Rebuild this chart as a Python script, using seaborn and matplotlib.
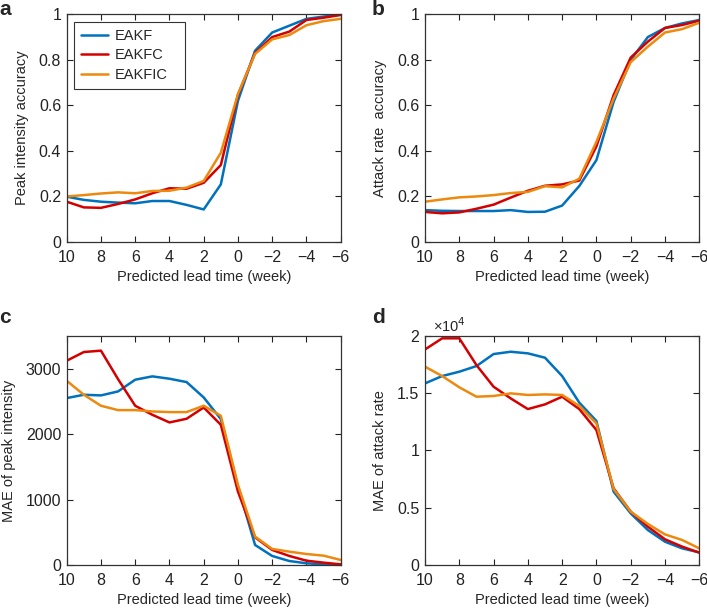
import numpy as np
import pandas as pd
import matplotlib
matplotlib.use("Agg")
import matplotlib.pyplot as plt
import seaborn as sns

lead = [10, 9, 8, 7, 6, 5, 4, 3, 2, 1, 0, -1, -2, -3, -4, -5, -6]
methods = ["EAKF", "EAKFC", "EAKFIC"]

# Panel a: peak intensity accuracy
a_eakf = [0.199, 0.185, 0.177, 0.173, 0.170, 0.180, 0.180, 0.163, 0.143, 0.253, 0.62, 0.84, 0.92, 0.95, 0.98, 0.99, 1.0]
a_eakfc = [0.177, 0.152, 0.150, 0.167, 0.187, 0.214, 0.236, 0.234, 0.260, 0.338, 0.646, 0.83, 0.90, 0.924, 0.975, 0.985, 0.997]
a_eakfic = [0.200, 0.206, 0.213, 0.218, 0.214, 0.224, 0.225, 0.239, 0.268, 0.392, 0.65, 0.826, 0.89, 0.909, 0.952, 0.97, 0.98]

# Panel b: attack rate accuracy
b_eakf = [0.140, 0.137, 0.136, 0.136, 0.136, 0.140, 0.132, 0.133, 0.160, 0.246, 0.36, 0.615, 0.80, 0.90, 0.94, 0.96, 0.975]
b_eakfc = [0.132, 0.126, 0.130, 0.146, 0.164, 0.195, 0.225, 0.247, 0.253, 0.270, 0.42, 0.645, 0.81, 0.88, 0.94, 0.953, 0.972]
b_eakfic = [0.177, 0.187, 0.196, 0.200, 0.206, 0.215, 0.220, 0.245, 0.240, 0.278, 0.44, 0.63, 0.79, 0.858, 0.92, 0.935, 0.963]

# Panel c: MAE of peak intensity
c_eakf = [2551, 2602, 2592, 2653, 2832, 2883, 2847, 2796, 2561, 2230, 1199, 306, 138, 61, 26, 10, 5]
c_eakfc = [3122, 3255, 3276, 2840, 2434, 2296, 2179, 2235, 2408, 2143, 1122, 423, 230, 138, 66, 36, 10]
c_eakfic = [2816, 2602, 2434, 2367, 2367, 2347, 2337, 2337, 2434, 2281, 1224, 434, 245, 204, 168, 143, 77]

# Panel d: MAE of attack rate
d_eakf = [15840, 16480, 16860, 17350, 18400, 18600, 18460, 18080, 16480, 14160, 12560, 6400, 4500, 3050, 2030, 1450, 1100]
d_eakfc = [18800, 19770, 19770, 17440, 15550, 14530, 13600, 14010, 14680, 13600, 11770, 6690, 4650, 3340, 2240, 1600, 1080]
d_eakfic = [17300, 16480, 15500, 14680, 14740, 14970, 14830, 14880, 14830, 13870, 12350, 6630, 4650, 3580, 2670, 2180, 1450]

colors = {"EAKF": "#0072BD", "EAKFC": "#D40000", "EAKFIC": "#EC8A10"}

def longform(s1, s2, s3):
    rows = []
    for m, s in zip(methods, [s1, s2, s3]):
        for x, y in zip(lead, s):
            rows.append({"lead": x, "value": y, "method": m})
    return pd.DataFrame(rows)

sns.set_style("ticks")
plt.rcParams["font.family"] = ["Liberation Sans", "DejaVu Sans"]
plt.rcParams["font.size"] = 11

fig = plt.figure(figsize=(7.07, 6.08), dpi=100)
W, H = 707, 608
def ax_px(l, t, r, b):
    return fig.add_axes([l / W, 1 - b / H, (r - l) / W, (b - t) / H])

axa = ax_px(66.7, 14.3, 340.7, 242)
axb = ax_px(425, 14.3, 699.3, 242)
axc = ax_px(66.7, 336, 340.7, 565)
axd = ax_px(425, 335.7, 699.3, 565)

panels = [
    (axa, (a_eakf, a_eakfc, a_eakfic), "Peak intensity accuracy", (0, 1), [0, 0.2, 0.4, 0.6, 0.8, 1], ["0", "0.2", "0.4", "0.6", "0.8", "1"], "a"),
    (axb, (b_eakf, b_eakfc, b_eakfic), "Attack rate  accuracy", (0, 1), [0, 0.2, 0.4, 0.6, 0.8, 1], ["0", "0.2", "0.4", "0.6", "0.8", "1"], "b"),
    (axc, (c_eakf, c_eakfc, c_eakfic), "MAE of peak intensity", (0, 3500), [0, 1000, 2000, 3000], ["0", "1000", "2000", "3000"], "c"),
    (axd, (d_eakf, d_eakfc, d_eakfic), "MAE of attack rate", (0, 20000), [0, 5000, 10000, 15000, 20000], ["0", "0.5", "1", "1.5", "2"], "d"),
]

letter_pos = {"a": (-1, 15), "b": (372, 15), "c": (-1, 322.7), "d": (372, 322.7)}

for ax, series, ylabel, ylim, yt, ytl, letter in panels:
    df = longform(*series)
    sns.lineplot(data=df, x="lead", y="value", hue="method", palette=colors,
                 linewidth=1.8, ax=ax, legend=(letter == "a"))
    ax.set_xlim(10, -6)
    ax.set_ylim(*ylim)
    ax.set_xticks([10, 8, 6, 4, 2, 0, -2, -4, -6])
    ax.set_xticklabels(["10", "8", "6", "4", "2", "0", "\u22122", "\u22124", "\u22126"])
    ax.set_yticks(yt)
    ax.set_yticklabels(ytl)
    ax.set_xlabel("Predicted lead time (week)", fontsize=10.5, labelpad=3.5)
    ax.set_ylabel(ylabel, fontsize=10.5, labelpad=7)
    ax.tick_params(direction="in", top=True, right=True, length=4, width=0.8,
                   labelsize=11.5, colors="#222222")
    ax.tick_params(axis="x", pad=6)
    ax.tick_params(axis="y", pad=4)
    for sp in ax.spines.values():
        sp.set_color("#333333")
        sp.set_linewidth(0.9)
    lx, ly = letter_pos[letter]
    fig.text(lx / W, 1 - ly / H, letter, fontsize=15, fontweight="bold",
             va="baseline", ha="left")

axd.text(0.03, 1.005, "\u00d710$^4$", transform=axd.transAxes, fontsize=10.5,
         va="bottom", ha="left")

handles, labels = axa.get_legend_handles_labels()
leg = axa.legend(handles, labels, loc="upper left",
                 bbox_to_anchor=(0.027, 0.966 - 0.29, 0.405, 0.29), mode="expand",
                 borderaxespad=0, frameon=True, fancybox=False, edgecolor="black",
                 fontsize=10.5, handlelength=1.9, borderpad=0.45, labelspacing=0.4,
                 handletextpad=0.45, title=None)
leg.get_frame().set_linewidth(0.8)

fig.savefig("out.png", dpi=100)
